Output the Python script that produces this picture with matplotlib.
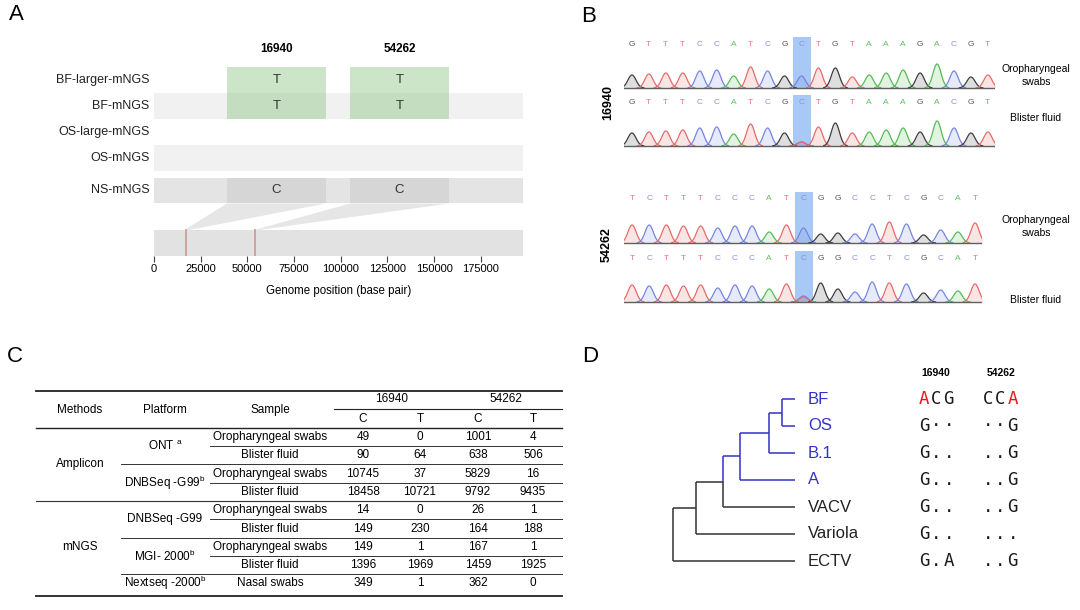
import numpy as np
import matplotlib.pyplot as plt
from matplotlib.patches import Rectangle, Polygon

plt.rcParams['font.family'] = ['Liberation Sans', 'DejaVu Sans']
plt.rcParams['mathtext.fontset'] = 'custom'
plt.rcParams['mathtext.rm'] = 'Liberation Sans'
plt.rcParams['mathtext.default'] = 'regular'

W, H = 1080, 610

# ---------------- data: panel A
snp_pos = [16940, 54262]
genome_len = 197400
windows = [(39000, 92000), (105000, 158000)]
tracks = ['BF-larger-mNGS', 'BF-mNGS', 'OS-large-mNGS', 'OS-mNGS', 'NS-mNGS']
track_alleles = [['T', 'T'], ['T', 'T'], [None, None], [None, None], ['C', 'C']]
x_ticks = [0, 25000, 50000, 75000, 100000, 125000, 150000, 175000]

# ---------------- data: panel B
seq_16940 = 'GTTTCCATCGCTGTAAAGACGT'
h_16940_os = [13, 14, 15, 15, 17, 18, 12, 21, 17, 12, 12, 20, 20, 11, 13, 15, 18, 15, 24, 17, 11, 13]
h_16940_bf = [13, 14, 15, 16, 18, 19, 12, 22, 18, 13, 4, 19, 23, 13, 14, 16, 18, 14, 25, 18, 13, 14]
seq_54262 = 'TCTTTCCCATCGGCCTCGCAT'
h_54262_os = [18, 18, 18, 17, 17, 15, 17, 17, 11, 18, 15, 9, 10, 9, 19, 21, 19, 8, 13, 11, 20]
h_54262_bf = [17, 16, 17, 16, 17, 14, 17, 16, 13, 18, 6, 19, 13, 10, 20, 19, 18, 9, 12, 11, 18]
snp_index = 10
minor_T_bf = {'16940': 4, '54262': 5}

# ---------------- data: panel C
methods = [('Amplicon', 0, 4), ('mNGS', 4, 9)]
platforms = [('ONT $^{a}$', 0, 2), ('DNBSeq -G99$^{b}$', 2, 4), ('DNBSeq -G99', 4, 6),
             ('MGI- 2000$^{b}$', 6, 8), ('Nextseq -2000$^{b}$', 8, 9)]
samples = ['Oropharyngeal swabs', 'Blister fluid'] * 4 + ['Nasal swabs']
counts = [[49, 0, 1001, 4],
          [90, 64, 638, 506],
          [10745, 37, 5829, 16],
          [18458, 10721, 9792, 9435],
          [14, 0, 26, 1],
          [149, 230, 164, 188],
          [149, 1, 167, 1],
          [1396, 1969, 1459, 1925],
          [349, 1, 362, 0]]

# ---------------- data: panel D
tips = ['BF', 'OS', 'B.1', 'A', 'VACV', 'Variola', 'ECTV']
blue_tips = ['BF', 'OS', 'B.1', 'A']
# (name, depth, children)
tree = ('root', 0, [('ECTV', 122, []),
                    ('n1', 23, [('Variola', 122, []),
                                ('n2', 50, [('VACV', 122, []),
                                            ('n3', 67, [('A', 122, []),
                                                        ('n4', 96, [('B.1', 122, []),
                                                                    ('n5', 109, [('BF', 122, []),
                                                                                 ('OS', 122, [])])])])])])])
blue_nodes = ['n3', 'n4', 'n5'] + blue_tips
aln_16940 = ['ACG', 'G\u00b7\u00b7', 'G..', 'G..', 'G..', 'G..', 'G.A']
aln_54262 = ['CCA', '\u00b7\u00b7G', '..G', '..G', '..G', '...', '..G']
red_chars = {('BF', 0, 0), ('BF', 1, 2)}

fig = plt.figure(figsize=(W / 100, H / 100), dpi=100)


def px_axes(x0, y0, x1, y1):
    return fig.add_axes([x0 / W, 1 - y1 / H, (x1 - x0) / W, (y1 - y0) / H])


ov = px_axes(0, 0, W, H)
ov.set_xlim(0, W)
ov.set_ylim(H, 0)
ov.axis('off')

for lab, (x, y) in zip('ABCD', [(16, 15), (589, 16), (15, 356), (590, 356)]):
    ov.text(x, y, lab, fontsize=16, ha='center', va='center')

# ================= panel A
axA = px_axes(154, 40, 522.7, 256)
axA.set_xlim(0, genome_len)
row_y = [0, 1, 2, 3, 4.25]
genome_y = 6.27
axA.set_ylim(genome_y + 0.5, -1.54)
band_cols = [None, '#f1f1f1', None, '#f1f1f1', '#e4e4e4']
for name, y, bc in zip(tracks, row_y, band_cols):
    if bc:
        axA.add_patch(Rectangle((0, y - 0.5), genome_len, 1, fc=bc, ec='none'))
    axA.text(-2500, y, name, ha='right', va='center', fontsize=9, color='#222222')

for j, (a, b) in enumerate(windows):
    axA.add_patch(Rectangle((a, row_y[0] - 0.5), b - a, 2, fc='#8fc486', alpha=0.45, ec='none'))
    axA.add_patch(Rectangle((a, row_y[4] - 0.5), b - a, 1, fc='#d6d6d6', ec='none'))
    for name, y, al in zip(tracks, row_y, track_alleles):
        if al[j]:
            axA.text((a + b) / 2, y, al[j], ha='center', va='center', fontsize=9.5, color='#333333')
    axA.text((a + b) / 2, -1.19, str(snp_pos[j]), ha='center', va='center',
             fontsize=8.5, fontweight='bold')
    p = snp_pos[j]
    axA.add_patch(Polygon([(p - 600, genome_y - 0.5), (p + 1800, genome_y - 0.5),
                           (b, row_y[4] + 0.5), (a, row_y[4] + 0.5)],
                          closed=True, fc='#e6e6e6', ec='none'))

axA.add_patch(Rectangle((0, genome_y - 0.5), genome_len, 1, fc='#e2e2e2', ec='none'))
for p in snp_pos:
    axA.plot([p, p], [genome_y - 0.5, genome_y + 0.5], color='#d39a9a', lw=1.3)
for s in axA.spines.values():
    s.set_visible(False)
axA.set_yticks([])
axA.set_xticks(x_ticks)
axA.tick_params(axis='x', length=4, width=0.8, color='#444444', labelsize=8, pad=2)
axA.set_xlabel('Genome position (base pair)', fontsize=8.3, labelpad=8)

# ================= panel B
base_line = {'A': '#55bb55', 'C': '#7585e0', 'G': '#3c3c3c', 'T': '#e66a6a'}
base_text = {'A': '#5cc25c', 'C': '#8393e2', 'G': '#555555', 'T': '#e27b7b'}


def draw_trace(ax, seq, heights, minor_t=None):
    n = len(seq)
    ax.add_patch(Rectangle((snp_index - 0.5, 0), 1.06, 51, fc='#9fc3f4', ec='none', alpha=0.9, zorder=0))
    xs = np.linspace(-0.5, n - 0.5, 1400)
    peaks = [(i, b, h) for i, (b, h) in enumerate(zip(seq, heights))]
    if minor_t is not None:
        peaks.append((snp_index, 'T', minor_t))
    for i, b, h in peaks:
        m = np.abs(xs - i) < 0.7
        yy = h * np.exp(-((xs[m] - i) ** 2) / (2 * 0.24 ** 2))
        ax.fill_between(xs[m], 0, yy, color=base_line[b], alpha=0.17, lw=0, zorder=1)
        ax.plot(xs[m], yy, color=base_line[b], lw=0.9, zorder=2)
    for i, b in enumerate(seq):
        ax.text(i, 44, b, ha='center', va='center', fontsize=6, color=base_text[b], zorder=3)
    ax.axhline(0, color='#606060', lw=1.0, zorder=2)
    ax.set_xlim(-0.47, n - 0.6)
    ax.set_ylim(-1.5, 53)
    ax.axis('off')


trace_specs = [(seq_16940, h_16940_os, None, 88, 16.95),
               (seq_16940, h_16940_bf, minor_T_bf['16940'], 146, 16.95),
               (seq_54262, h_54262_os, None, 243, 17.15),
               (seq_54262, h_54262_bf, minor_T_bf['54262'], 302, 17.15)]
for seq, hs, mt, base_px, sp in trace_specs:
    width = (len(seq) - 0.6 + 0.47) * sp
    ax = px_axes(624, base_px - 53, 624 + width, base_px + 1.5)
    draw_trace(ax, seq, hs, mt)

ov.text(608, 103, '16940', rotation=90, ha='center', va='center', fontsize=9, fontweight='bold')
ov.text(607, 245, '54262', rotation=90, ha='center', va='center', fontsize=9, fontweight='bold')
for y, t in [(75.5, 'Oropharyngeal\nswabs'), (118, 'Blister fluid'),
             (226.5, 'Oropharyngeal\nswabs'), (300, 'Blister fluid')]:
    ov.text(1036, y, t, ha='center', va='center', fontsize=7.5, linespacing=1.4)

# ================= panel C
tx0, tx1 = 36, 562
col_m, col_p, col_s = 80, 165, 270
col_d = [363, 420, 478, 533]
row0, pitch = 437, 18.3
ry = [row0 + pitch * i for i in range(len(samples))]
fs = 8.5
ov.plot([tx0, tx1], [391, 391], color='#222222', lw=1.3)
ov.plot([tx0, tx1], [428, 428], color='#222222', lw=1.0)
ov.plot([334, tx1], [409, 409], color='#222222', lw=0.8)
ov.plot([tx0, tx1], [596, 596], color='#222222', lw=1.3)
for x, t in [(col_m, 'Methods'), (col_p, 'Platform'), (col_s, 'Sample')]:
    ov.text(x, 410, t, ha='center', va='center', fontsize=fs)
for k, snp in enumerate(snp_pos):
    ov.text((col_d[2 * k] + col_d[2 * k + 1]) / 2, 399, str(snp), ha='center', va='center', fontsize=fs)
    ov.text(col_d[2 * k], 419, 'C', ha='center', va='center', fontsize=fs)
    ov.text(col_d[2 * k + 1], 419, 'T', ha='center', va='center', fontsize=fs)
for i, (s, row) in enumerate(zip(samples, counts)):
    ov.text(col_s, ry[i], s, ha='center', va='center', fontsize=fs)
    for x, v in zip(col_d, row):
        ov.text(x, ry[i], str(v), ha='center', va='center', fontsize=fs)
for name, a, b in platforms:
    ov.text(col_p, (ry[a] + ry[b - 1]) / 2, name, ha='center', va='center', fontsize=fs)
    if b - a == 2:
        yl = (ry[a] + ry[a + 1]) / 2
        ov.plot([210, tx1], [yl, yl], color='#333333', lw=0.7)
    if b < len(samples) and b not in [m[2] for m in methods]:
        yl = (ry[b - 1] + ry[b]) / 2
        ov.plot([121, tx1], [yl, yl], color='#333333', lw=0.7)
for name, a, b in methods:
    ov.text(col_m, (ry[a] + ry[b - 1]) / 2, name, ha='center', va='center', fontsize=fs)
    if b < len(samples):
        yl = (ry[b - 1] + ry[b]) / 2
        ov.plot([tx0, tx1], [yl, yl], color='#333333', lw=0.8)

# ================= panel D
root_x, tip_y0, tip_pitch = 673, 399, 27
tip_pos = {t: tip_y0 + tip_pitch * i for i, t in enumerate(tips)}
BLUE, BLACK = '#3232c8', '#333333'


def layout(node):
    name, depth, kids = node
    if not kids:
        return tip_pos[name]
    ys = [layout(k) for k in kids]
    y = (min(ys) + max(ys)) / 2
    for k, yk in zip(kids, ys):
        c = BLUE if k[0] in blue_nodes else BLACK
        ov.plot([root_x + depth, root_x + depth], [y, yk], color=c, lw=1.1, solid_capstyle='butt')
        ov.plot([root_x + depth, root_x + k[1]], [yk, yk], color=c, lw=1.1, solid_capstyle='butt')
    return y


layout(tree)
for t in tips:
    c = BLUE if t in blue_tips else '#222222'
    ov.text(root_x + 122 + 13, tip_pos[t], t, ha='left', va='center', fontsize=12, color=c)

ov.text(936, 373, '16940', ha='center', va='center', fontsize=7.5, fontweight='bold')
ov.text(1001, 373, '54262', ha='center', va='center', fontsize=7.5, fontweight='bold')
for i, t in enumerate(tips):
    for k, (s, x0) in enumerate([(aln_16940[i], 924), (aln_54262[i], 988)]):
        for c_i, ch in enumerate(s):
            col = '#e41a1c' if (t, k, c_i) in red_chars else '#1a1a1a'
            ov.text(x0 + 12.4 * c_i, tip_pos[t], ch, ha='center', va='center',
                    fontsize=12.5, family='DejaVu Sans Mono', color=col)

fig.savefig('out.png', dpi=100)
